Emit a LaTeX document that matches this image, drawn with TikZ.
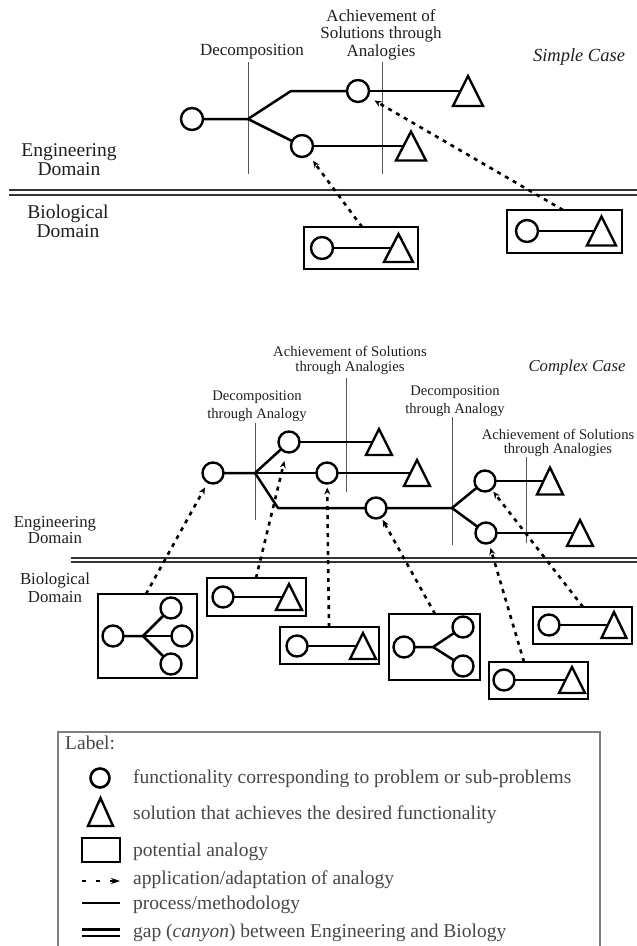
\documentclass[tikz,border=0pt]{standalone}
\usepackage{fontspec}
\setmainfont{Liberation Serif}
\usetikzlibrary{arrows.meta,calc}
\newcommand\tri[5]{%
  \node[tribox, minimum width=#4pt, minimum height=#5pt] (#1) at (#2,#3) {};
  \draw[triline] (#1.south west) -- (#1.north) -- (#1.south east) -- cycle;
  \coordinate (#1-in) at ($(#1.south west)!0.5!(#1.north)$);}
\newcommand\abox[5]{%
  \node[anbox, minimum width={#4-#2}, minimum height={#5-#3}] (#1) at ({(#2+#4)/2},{(#3+#5)/2}) {};}
\begin{document}
\begin{tikzpicture}[x=1pt,y=-1pt,
  proc/.style={line width=2.5pt, line join=round},
  vline/.style={line width=1pt, draw=black!65},
  fn/.style={circle, draw, line width=2.4pt, minimum size=22pt, inner sep=0pt, outer sep=0pt},
  fns/.style={fn, minimum size=21pt},
  tribox/.style={inner sep=0pt, outer sep=0pt},
  triline/.style={line width=2.4pt, line join=miter},
  anbox/.style={draw, line width=2.5pt, inner sep=0pt, outer sep=0pt},
  arr/.style={line width=2.6pt, dash pattern=on 4pt off 5pt, -{Stealth[length=7pt,width=6pt]}},
  gap/.style={line width=2pt, draw=black!80},
  lbl/.style={align=center, text=black!88, inner sep=0pt},
  leg/.style={anchor=west, text=black!72, inner sep=0pt, font=\fontsize{19.5}{20}\selectfont},
]
\useasboundingbox (0,0) rectangle (637,946);

% ---------------- Simple case ----------------
\node[lbl, font=\fontsize{17}{17}\selectfont] (sdec) at (252,52) {Decomposition};
\node[lbl, font=\fontsize{17}{17.5}\selectfont] (sach) at (381,34.5) {Achievement of\\Solutions through\\Analogies};
\node[lbl, font=\fontsize{18.5}{19}\selectfont\itshape] (scase) at (579,57) {Simple Case};
\node[lbl, font=\fontsize{19.5}{19}\selectfont] (seng) at (69,160) {Engineering\\Domain};
\node[lbl, font=\fontsize{19.5}{19}\selectfont] (sbio) at (68,221.5) {Biological\\Domain};

\draw[vline] (248,62) -- (248,174);
\draw[vline] (382,62) -- (382,174);

\node[fn] (s0) at (192,119) {};
\node[fn] (s1) at (358,91) {};
\node[fn] (s2) at (302,146) {};
\tri{t1}{468}{91}{30}{30}
\tri{t2}{411}{146}{30}{29}
\coordinate (sb) at (248,119);
\coordinate (se) at (291,91);
\draw[proc] (s0) -- (sb) -- (se) -- (s1);
\draw[proc] (sb) -- (s2);
\draw[proc] (s1) -- (t1-in);
\draw[proc] (s2) -- (t2-in);

\draw[gap] (9,190) -- (637,190);
\draw[gap] (9,195) -- (637,195);

\abox{b1}{304}{227}{418}{269}
\node[fn] (b1c) at (322,248) {};
\tri{b1t}{398.5}{248}{29}{28}
\draw[proc] (b1c) -- (b1t-in);

\abox{b2}{507}{210}{622}{253}
\node[fn] (b2c) at (527,231) {};
\tri{b2t}{601.5}{231}{29}{29}
\draw[proc] (b2c) -- (b2t-in);

\draw[arr, shorten >=7.5pt] ([xshift=58pt]b1.north west) -- (s2);
\draw[arr, shorten >=8pt] ([xshift=56pt]b2.north west) -- (s1);

% ---------------- Complex case ----------------
\node[lbl, font=\fontsize{14.7}{15}\selectfont] (cach) at (350,360.5) {Achievement of Solutions\\through Analogies};
\node[lbl, font=\fontsize{16.7}{17}\selectfont\itshape] (ccase) at (577,367) {Complex Case};
\node[lbl, font=\fontsize{14.6}{18}\selectfont] (cdec1) at (257,406) {Decomposition\\through Analogy};
\node[lbl, font=\fontsize{14.6}{18}\selectfont] (cdec2) at (455,401) {Decomposition\\through Analogy};
\node[lbl, font=\fontsize{14.6}{14}\selectfont] (cach2) at (558,443) {Achievement of Solutions\\through Analogies};
\node[lbl, font=\fontsize{16.8}{16}\selectfont] (ceng) at (55,530) {Engineering\\Domain};
\node[lbl, font=\fontsize{16.8}{18}\selectfont] (cbio) at (55,588) {Biological\\Domain};

\draw[vline] (346,378) -- (346,492);
\draw[vline] (255,423) -- (255,520);
\draw[vline] (452,417) -- (452,545);
\draw[vline] (526,457) -- (526,543);

\node[fns] (c0) at (213,473) {};
\node[fns] (cu) at (289,442) {};
\node[fns] (cm) at (327,473) {};
\node[fns] (cl) at (376,508) {};
\node[fns] (cru) at (485,481) {};
\node[fns] (crl) at (486,533) {};
\tri{ctu}{379}{442}{26}{26}
\tri{ctm}{417}{473}{26}{26}
\tri{ctru}{550}{481}{26}{27}
\tri{ctrl}{580}{533}{26}{26}
\coordinate (cb) at (255,473);
\coordinate (ce) at (278,508);
\coordinate (crb) at (452,508);
\draw[proc] (c0) -- (cb) -- (cu);
\draw[proc] (cb) -- (cm);
\draw[proc] (cb) -- (ce) -- (cl);
\draw[proc] (cl) -- (crb) -- (cru);
\draw[proc] (crb) -- (crl);
\draw[proc] (cu) -- (ctu-in);
\draw[proc] (cm) -- (ctm-in);
\draw[proc] (cru) -- (ctru-in);
\draw[proc] (crl) -- (ctrl-in);

\draw[gap] (71,557.5) -- (637,557.5);
\draw[gap] (71,562) -- (637,562);

% box A (tree of three)
\abox{ba}{98}{594}{197}{678}
\node[fns] (ba0) at (113,636) {};
\coordinate (bab) at (143,636);
\node[fns] (ba1) at (171,608) {};
\node[fns] (ba2) at (182,636) {};
\node[fns] (ba3) at (171,664) {};
\draw[proc] (ba0) -- (bab) -- (ba1);
\draw[proc] (bab) -- (ba2);
\draw[proc] (bab) -- (ba3);

% box B
\abox{bb}{207}{578}{306}{616}
\node[fns] (bbc) at (223,597) {};
\tri{bbt}{289}{597}{26}{26}
\draw[proc] (bbc) -- (bbt-in);

% box C
\abox{bc}{280}{627}{379}{664}
\node[fns] (bcc) at (297,646) {};
\tri{bct}{363}{646}{26}{26}
\draw[proc] (bcc) -- (bct-in);

% box D (tree of two)
\abox{bd}{389}{614}{480}{680}
\node[fns] (bd0) at (404,647) {};
\coordinate (bdb) at (433,647);
\node[fns] (bd1) at (463,627) {};
\node[fns] (bd2) at (463,666) {};
\draw[proc] (bd0) -- (bdb) -- (bd1);
\draw[proc] (bdb) -- (bd2);

% box E
\abox{be}{533}{607}{632}{644}
\node[fns] (bec) at (549,625) {};
\tri{bet}{614}{625}{25}{26}
\draw[proc] (bec) -- (bet-in);

% box F
\abox{bf}{489}{662}{588}{699}
\node[fns] (bfc) at (504,680) {};
\tri{bft}{572}{680}{26}{26}
\draw[proc] (bfc) -- (bft-in);

\draw[arr, shorten >=6pt] ([xshift=48pt]ba.north west) -- (c0);
\draw[arr, shorten >=9pt] ([xshift=49pt]bb.north west) -- (cu);
\draw[arr, shorten >=4pt] ([xshift=49pt]bc.north west) -- (cm);
\draw[arr, shorten >=3pt] ([xshift=46pt]bd.north west) -- (cl);
\draw[arr, shorten >=3pt] ([xshift=50pt]be.north west) -- (cru);
\draw[arr, shorten >=5pt] ([xshift=35pt]bf.north west) -- (crl);

% ---------------- Legend ----------------
\draw[draw=black!50, line width=1.2pt] (58,947) -- (58,732) -- (600,732) -- (600,947);
\node[leg] (lt) at (65,743) {Label:};
\node[fn, minimum size=19pt, line width=2.6pt] (lc) at (100,778) {};
\node[leg] (l1) at (133,779) {functionality corresponding to problem or sub-problems};
\tri{lt2}{100.5}{812}{25}{28}
\node[leg] (l2) at (133,815) {solution that achieves the desired functionality};
\abox{lr}{82}{838}{120}{862}
\node[leg] (l3) at (133,852) {potential analogy};
\coordinate (la1) at (82,881);
\coordinate (la2) at (120,881);
\draw[line width=2.6pt, dash pattern=on 4pt off 10pt, -{Stealth[length=9pt,width=6pt]}] (la1) -- (la2);
\node[leg] (l4) at (133,880) {application/adaptation of analogy};
\coordinate (lp1) at (82,903);
\coordinate (lp2) at (120,903);
\draw[proc] (lp1) -- (lp2);
\node[leg] (l5) at (133,905) {process/methodology};
\coordinate (lg1) at (82,929.5);
\coordinate (lg2) at (120,929.5);
\coordinate (lg3) at (82,936);
\coordinate (lg4) at (120,936);
\draw[line width=2.4pt] (lg1) -- (lg2);
\draw[line width=2.4pt] (lg3) -- (lg4);
\node[leg] (l6) at (133,933) {gap (\textit{canyon}) between Engineering and Biology};
\end{tikzpicture}
\end{document}
